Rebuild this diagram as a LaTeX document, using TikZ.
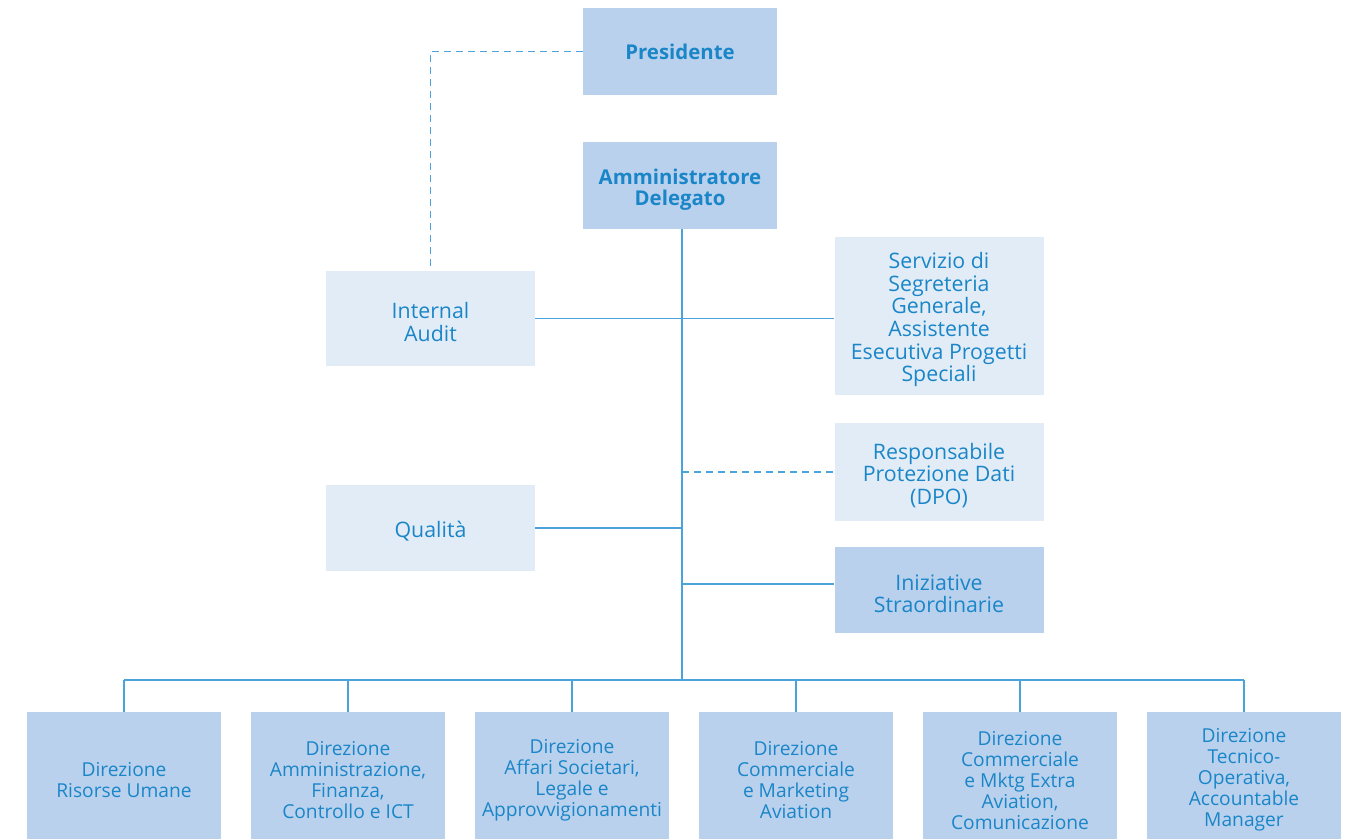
\documentclass[tikz,border=0pt]{standalone}
\usepackage{fontspec}
\setmainfont{Open Sans}
\usetikzlibrary{positioning}
\definecolor{boxdark}{HTML}{BAD1EE}
\definecolor{boxlight}{HTML}{E2ECF7}
\definecolor{txtblue}{HTML}{1A86C8}
\definecolor{lineblue}{HTML}{4AA3DB}
\newcommand{\lead}{\rule{0pt}{17.5pt}}

\begin{document}
\begin{tikzpicture}[
    x=0.75pt, y=-0.75pt,
    box/.style={rectangle, fill=boxdark, text=txtblue, align=center, inner sep=2pt,
        font=\fontsize{16}{17}\selectfont},
    topbox/.style={box, minimum width=145.5pt, minimum height=65.25pt,
        font=\fontsize{15.3}{16}\selectfont\bfseries},
    sidebox/.style={box, fill=boxlight, minimum width=156.75pt},
    dirbox/.style={box, minimum width=145.5pt, minimum height=95.25pt,
        font=\fontsize{14.4}{15.75}\selectfont},
    link/.style={draw=lineblue, line width=1.2pt},
    dotlink/.style={link, dash pattern=on 5pt off 4pt}
]
\useasboundingbox (0,0) rectangle (1351,839);

% vertici
\node[topbox] (pres) at (680,51.5) {Presidente};
\node[topbox] (ad) at (680,185.5) {\lead Amministratore\\Delegato};

% staff
\node[sidebox, minimum height=71.25pt] (audit) at (430.5,318.5) {\lead Internal\\Audit};
\node[sidebox, minimum height=118.5pt] (segr) at (939,316) {\lead Servizio di\\Segreteria\\Generale,\\Assistente\\Esecutiva Progetti\\Speciali};
\node[sidebox, minimum height=73.5pt] (dpo) at (939,472) {\lead Responsabile\\Protezione Dati\\(DPO)};
\node[sidebox, minimum height=64.5pt] (qual) at (430.5,528) {\lead Qualità};
\node[sidebox, fill=boxdark, minimum height=64.5pt] (iniz) at (939,590) {\lead Iniziative\\Straordinarie};

% direzioni
\node[dirbox] (hr) at (124,775.5) {\lead Direzione\\Risorse Umane};
\node[dirbox] (amm) at (348,775.5) {\lead Direzione\\Amministrazione,\\Finanza,\\Controllo e ICT};
\node[dirbox] (leg) at (572,775.5) {\lead Direzione\\Affari Societari,\\Legale e\\Approvvigionamenti};
\node[dirbox] (avi) at (796,775.5) {\lead Direzione\\Commerciale\\e Marketing\\Aviation};
\node[dirbox] (extra) at (1020,775.5) {\lead Direzione\\Commerciale\\e Mktg Extra\\Aviation,\\Comunicazione};
\node[dirbox] (tec) at (1244,775.5) {\lead Direzione\\Tecnico-\\Operativa,\\Accountable\\Manager};

% tronco e rami
\coordinate (bus) at (682,680);
\draw[link] (ad.south -| bus) -- (bus);
\draw[link] (audit.east) -- (audit.east -| segr.west);
\draw[dotlink] (bus |- dpo.west) -- (dpo.west);
\draw[link] (qual.east) -- (bus |- qual.east);
\draw[link] (bus |- 0,584) -- (iniz.west |- 0,584);
\draw[link] (hr.north |- bus) -- (tec.north |- bus);
\foreach \d in {hr,amm,leg,avi,extra,tec}
    \draw[link] (\d.north |- bus) -- (\d.north);
\draw[dotlink] (pres.west) -| (audit.north);
\end{tikzpicture}
\end{document}
